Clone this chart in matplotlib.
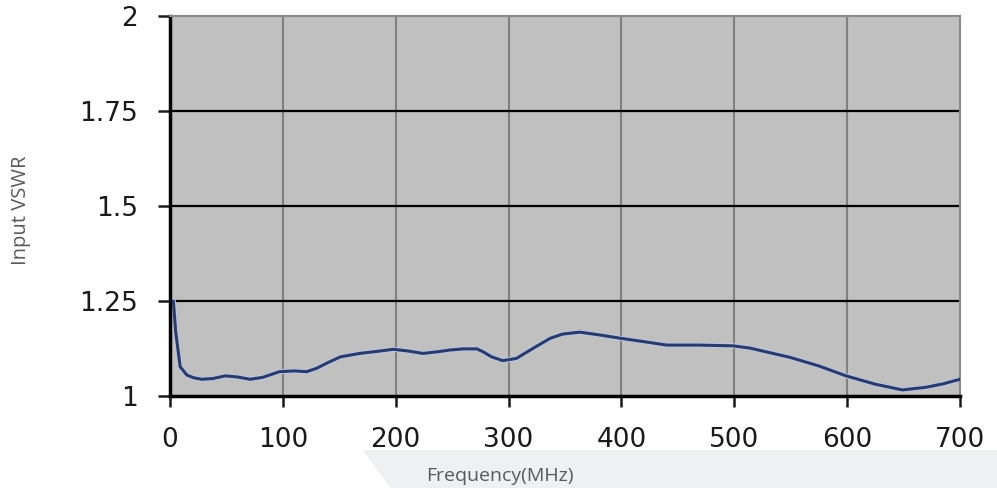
import matplotlib.pyplot as plt
from matplotlib.patches import Polygon

freq = [3, 5, 9, 15, 21, 28, 38, 49, 60, 71, 82, 90, 97, 110, 121, 130, 140,
        151, 168, 185, 198, 212, 224, 236, 248, 260, 272, 277, 285, 295, 307,
        322, 337, 348, 363, 380, 399, 420, 440, 469, 499, 514, 530, 549, 575,
        599, 625, 649, 670, 685, 700]
vswr = [1.25, 1.17, 1.077, 1.055, 1.048, 1.044, 1.046, 1.053, 1.050, 1.044,
        1.049, 1.057, 1.064, 1.066, 1.064, 1.073, 1.088, 1.103, 1.112, 1.118,
        1.123, 1.118, 1.112, 1.116, 1.121, 1.124, 1.124, 1.117, 1.103, 1.093,
        1.099, 1.126, 1.152, 1.163, 1.168, 1.161, 1.152, 1.143, 1.134, 1.134,
        1.132, 1.126, 1.115, 1.102, 1.079, 1.053, 1.031, 1.016, 1.023, 1.032,
        1.044]

xticks = [0, 100, 200, 300, 400, 500, 600, 700]
yticks = [1, 1.25, 1.5, 1.75, 2]
ytick_labels = ['1', '1.25', '1.5', '1.75', '2']

fig = plt.figure(figsize=(9.97, 4.88), dpi=100)

# light band behind the x-axis title
band = Polygon([(363/997, 1-450/488), (1, 1-450/488), (1, 0), (390/997, 0)],
               closed=True, transform=fig.transFigure, facecolor='#eff0f2',
               edgecolor='none', zorder=0)
fig.patches.append(band)

ax = fig.add_axes([170/997, 1-396/488, 790/997, 380/488])
ax.set_facecolor('#c0c0c0')
ax.set_xlim(0, 700)
ax.set_ylim(1, 2)

ax.set_xticks(xticks)
ax.set_yticks(yticks)
ax.set_yticklabels(ytick_labels)

for x in xticks[1:-1]:
    ax.axvline(x, color='#808080', lw=1.5, zorder=1)
for y in yticks[1:-1]:
    ax.axhline(y, color='black', lw=1.6, zorder=1)

ax.plot(freq, vswr, color='#b8c8e8', lw=3.6, zorder=2, solid_capstyle='round')
ax.plot(freq, vswr, color='#2c3a68', lw=2.2, zorder=3, solid_capstyle='round')

ax.spines['left'].set_color('black')
ax.spines['left'].set_linewidth(2.5)
ax.spines['bottom'].set_color('black')
ax.spines['bottom'].set_linewidth(2.5)
ax.spines['top'].set_color('#8a8a8a')
ax.spines['top'].set_linewidth(1.5)
ax.spines['right'].set_color('#8a8a8a')
ax.spines['right'].set_linewidth(1.5)

ax.tick_params(axis='y', direction='out', length=9, width=1.8, pad=14,
               colors='#1a1a1a')
ax.tick_params(axis='x', direction='out', length=8, width=1.8, pad=14,
               colors='#1a1a1a')
for lab in ax.get_xticklabels() + ax.get_yticklabels():
    lab.set_fontfamily(['DejaVu Sans'])
    lab.set_fontsize(19)

fig.text(500/997, 1-476/488, 'Frequency(MHz)', ha='center', va='center',
         fontsize=14, color='#595959', family=['Open Sans', 'DejaVu Sans'])
fig.text(21/997, 1-210/488, 'Input VSWR', ha='center', va='center',
         rotation=90, fontsize=14.5, color='#595959',
         family=['Open Sans', 'DejaVu Sans'])

fig.savefig('out.png', dpi=100)
